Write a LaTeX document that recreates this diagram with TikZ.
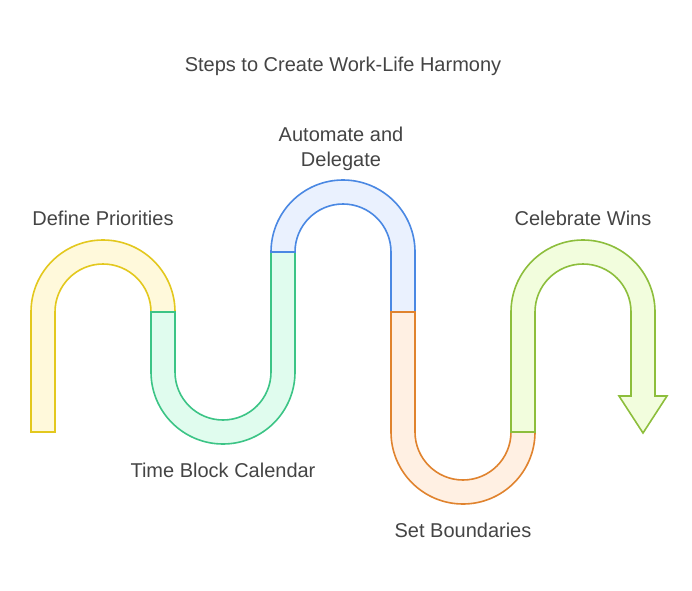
\documentclass[tikz,border=0pt]{standalone}
\usepackage{fontspec}
\setmainfont{Liberation Sans}
\definecolor{ylwS}{HTML}{E3C81E}
\definecolor{ylwF}{HTML}{FFF9DB}
\definecolor{grnS}{HTML}{3CC486}
\definecolor{grnF}{HTML}{E0FCEE}
\definecolor{bluS}{HTML}{4A88E3}
\definecolor{bluF}{HTML}{EAF1FE}
\definecolor{orgS}{HTML}{E0832E}
\definecolor{orgF}{HTML}{FFF0E3}
\definecolor{limS}{HTML}{8DBE3C}
\definecolor{limF}{HTML}{F2FDDD}
\definecolor{txt}{HTML}{444444}
\tikzset{
  seg/.style={line width=1.6pt, line join=miter},
  lbl/.style={text=txt, font=\fontsize{20}{24}\selectfont, anchor=base, inner sep=0pt}
}
\begin{document}
\begin{tikzpicture}[x=1pt,y=1pt]
\useasboundingbox (0,0) rectangle (692,590);
% yellow
\draw[seg, draw=ylwS, fill=ylwF] (31,158) -- (31,278) arc[start angle=180,end angle=0,radius=72pt]
  -- (151,278) arc[start angle=0,end angle=180,radius=48pt] -- (55,158) -- cycle;
% green
\draw[seg, draw=grnS, fill=grnF] (151,278) -- (151,218) arc[start angle=180,end angle=360,radius=72pt]
  -- (295,338) -- (271,338) -- (271,218) arc[start angle=0,end angle=-180,radius=48pt] -- (175,278) -- cycle;
% blue
\draw[seg, draw=bluS, fill=bluF] (271,338) arc[start angle=180,end angle=0,radius=72pt]
  -- (415,278) -- (391,278) -- (391,338) arc[start angle=0,end angle=180,radius=48pt] -- cycle;
% orange
\draw[seg, draw=orgS, fill=orgF] (391,278) -- (391,158) arc[start angle=180,end angle=360,radius=72pt]
  -- (511,158) arc[start angle=0,end angle=-180,radius=48pt] -- (415,278) -- cycle;
% lime with arrow
\draw[seg, draw=limS, fill=limF] (511,158) -- (511,278) arc[start angle=180,end angle=0,radius=72pt]
  -- (655,194) -- (667,194) -- (643,157) -- (619,194) -- (631,194) -- (631,278)
  arc[start angle=0,end angle=180,radius=48pt] -- (535,158) -- cycle;
% labels
\node[lbl] (title) at (343,518) {Steps to Create Work-Life Harmony};
\node[lbl] (s1) at (103,365) {Define Priorities};
\node[lbl] (s2) at (223,113) {Time Block Calendar};
\node[lbl] (s3a) at (341,448) {Automate and};
\node[lbl] (s3b) at (341,424) {Delegate};
\node[lbl] (s4) at (463,53) {Set Boundaries};
\node[lbl] (s5) at (583,365) {Celebrate Wins};
\end{tikzpicture}
\end{document}
